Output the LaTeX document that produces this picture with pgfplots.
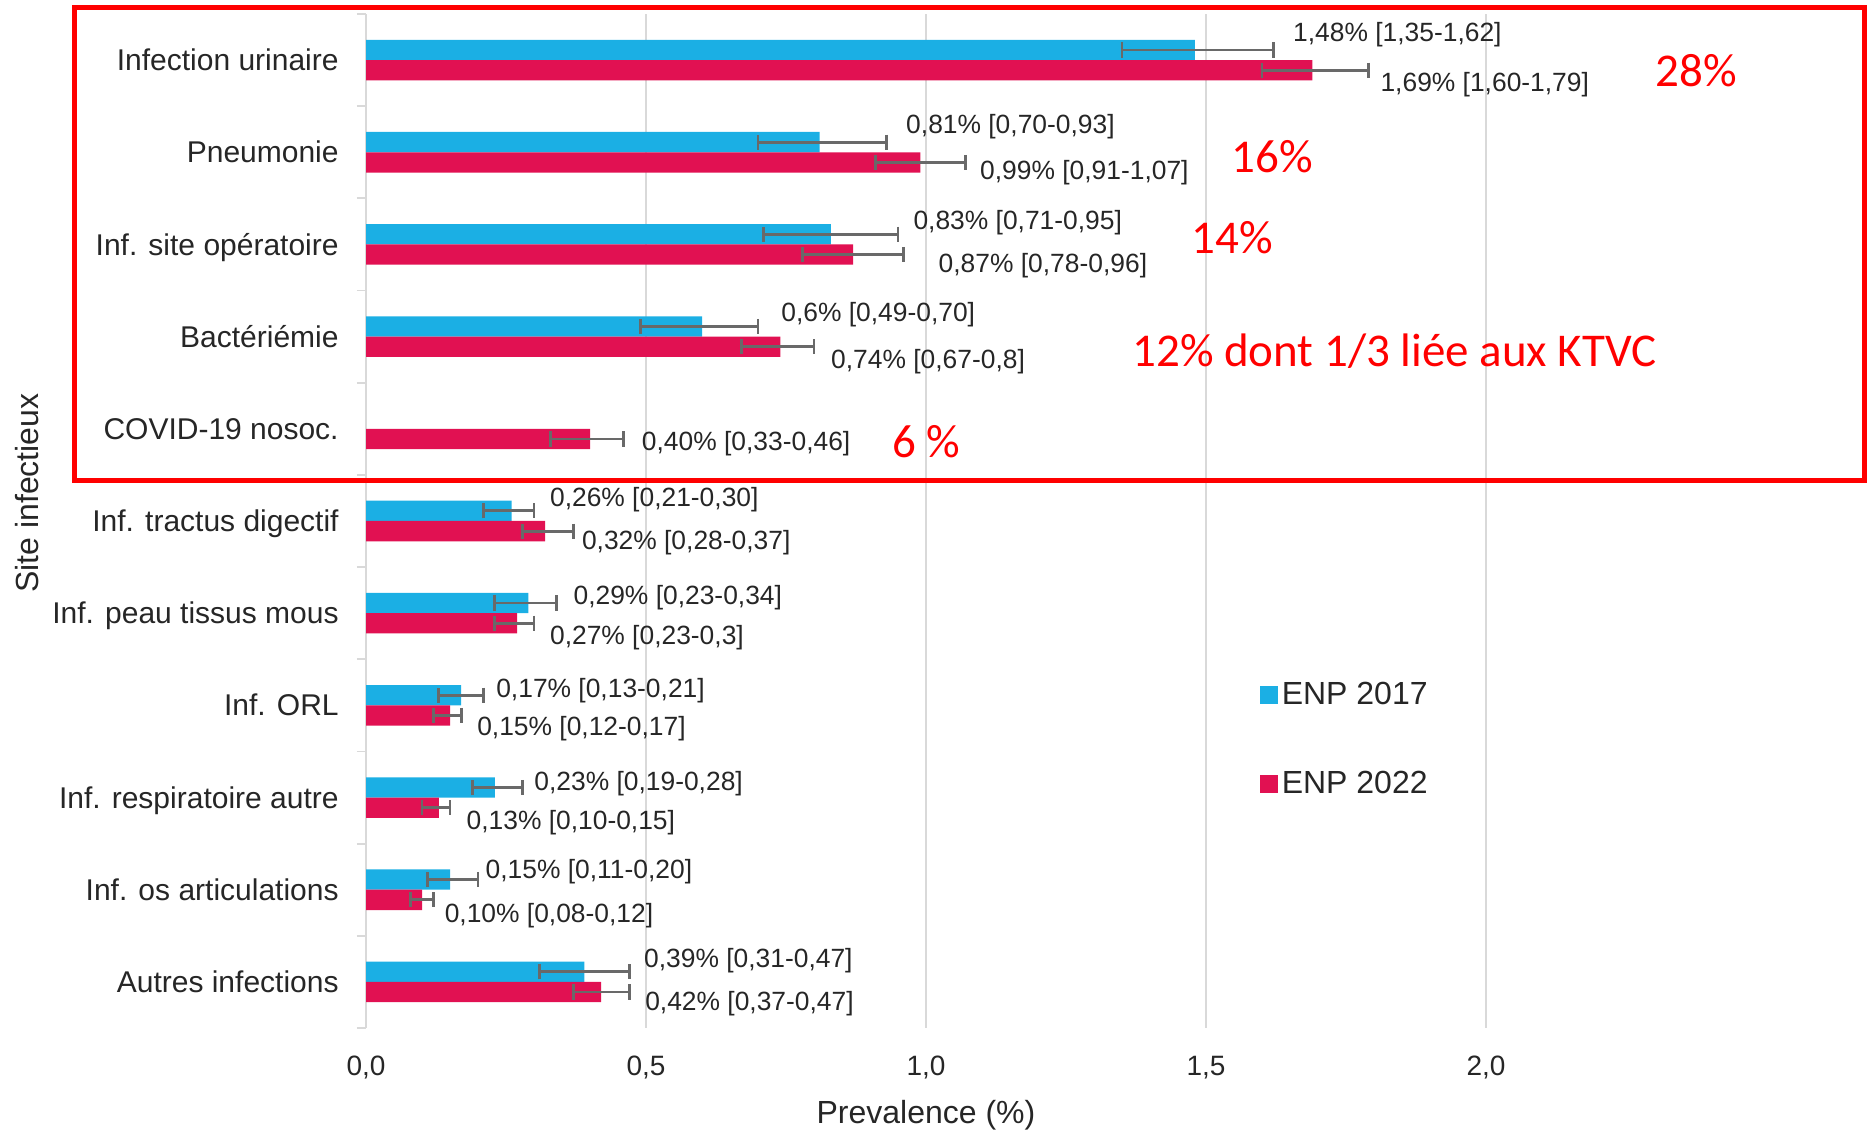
\documentclass[border=0pt]{standalone}
\usepackage{pgfplots}
\pgfplotsset{compat=1.18}
\usepackage{pgfplotstable}
\usepackage{fontspec}
\setmainfont{Liberation Sans}
\newfontfamily\calib{Carlito}
\definecolor{cblue}{RGB}{27,175,228}
\definecolor{cred}{RGB}{225,17,82}
\definecolor{errgray}{RGB}{105,105,105}
\definecolor{txt}{RGB}{38,38,38}
\definecolor{gridc}{RGB}{217,217,217}

% ENP 2017
\pgfplotstableread[col sep=semicolon]{
y;v;lo;hi;lx;ly;lab
10;1.48;1.35;1.62;1.655;10.303;1,48\% [1,35-1,62]
9;0.81;0.70;0.93;0.964;9.307;0,81\% [0,70-0,93]
8;0.83;0.71;0.95;0.977;8.260;0,83\% [0,71-0,95]
7;0.60;0.49;0.70;0.741;7.265;0,6\% [0,49-0,70]
5;0.26;0.21;0.30;0.328;5.260;0,26\% [0,21-0,30]
4;0.29;0.23;0.34;0.370;4.201;0,29\% [0,23-0,34]
3;0.17;0.13;0.21;0.232;3.192;0,17\% [0,13-0,21]
2;0.23;0.19;0.28;0.300;2.183;0,23\% [0,19-0,28]
1;0.15;0.11;0.20;0.213;1.227;0,15\% [0,11-0,20]
0;0.39;0.31;0.47;0.496;0.257;0,39\% [0,31-0,47]
}\tblue

% ENP 2022
\pgfplotstableread[col sep=semicolon]{
y;v;lo;hi;lx;ly;lab
10;1.69;1.60;1.79;1.811;9.760;1,69\% [1,60-1,79]
9;0.99;0.91;1.07;1.096;8.803;0,99\% [0,91-1,07]
8;0.87;0.78;0.96;1.022;7.795;0,87\% [0,78-0,96]
7;0.74;0.67;0.80;0.830;6.760;0,74\% [0,67-0,8]
6;0.40;0.33;0.46;0.492;5.869;0,40\% [0,33-0,46]
5;0.32;0.28;0.37;0.385;4.795;0,32\% [0,28-0,37]
4;0.27;0.23;0.30;0.328;3.761;0,27\% [0,23-0,3]
3;0.15;0.12;0.17;0.198;2.779;0,15\% [0,12-0,17]
2;0.13;0.10;0.15;0.179;1.757;0,13\% [0,10-0,15]
1;0.10;0.08;0.12;0.140;0.748;0,10\% [0,08-0,12]
0;0.42;0.37;0.47;0.498;-0.208;0,42\% [0,37-0,47]
}\tred

\begin{document}
\begin{tikzpicture}
\useasboundingbox (0,0) rectangle (934.5pt,565pt);
\begin{axis}[
  at={(183pt,558pt)}, anchor=north west,
  scale only axis, width=560pt, height=507pt,
  xmin=0, xmax=2, ymin=-0.5, ymax=10.5,
  clip=false,
  axis lines=left, axis line style={-},
  x axis line style={draw=none},
  y axis line style={draw=gridc, line width=0.9pt},
  xtick={0,0.5,1,1.5,2},
  ytick={0,...,10},
  yticklabels={Autres infections, Inf. os articulations, Inf. respiratoire autre, Inf. ORL, Inf. peau tissus mous, Inf. tractus digectif, COVID-19 nosoc., Bactériémie, Inf. site opératoire, Pneumonie, Infection urinaire},
  minor ytick={-0.5,0.5,...,10.5},
  major tick length=0pt, minor tick length=4.5pt, tick align=outside,
  minor tick style={draw=gridc, line width=0.9pt},
  xmajorgrids, grid style={draw=gridc, line width=0.8pt},
  /pgf/number format/assume math mode=true,
  xticklabel style={/pgf/number format/.cd, use comma, fixed, fixed zerofill, precision=1, /tikz/.cd,
     font=\fontsize{14}{17}\selectfont, text=txt, anchor=base, inner sep=0pt, yshift=-23.5pt},
  yticklabel style={font=\fontsize{15}{18}\selectfont, text=txt, anchor=base east, inner sep=0pt, xshift=-13.5pt, yshift=-5.3pt},
  xlabel={Prevalence (\%)},
  xlabel style={at={(axis description cs:0.5,-0.0937)}, anchor=base, font=\fontsize{16}{19}\selectfont, text=txt},
  ylabel={Site infectieux},
  ylabel style={at={(axis description cs:-0.3027,0.5276)}, anchor=center, font=\fontsize{16}{19}\selectfont, text=txt},
  legend style={at={(axis cs:1.596,2.63)}, anchor=west, draw=none, fill=none, inner sep=0pt,
     row sep=28pt, font=\fontsize{16}{19}\selectfont, text=txt, cells={anchor=west}},
  error bars/error bar style={line width=1.4pt, color=errgray, solid},
  error bars/error mark options={line width=1.4pt, color=errgray, solid, mark size=3.8pt, rotate=90},
]
\addplot[xbar, bar width=0.22, bar shift=0pt, fill=cblue, draw=none,
   legend image code/.code={\fill[cblue] (0pt,-4.4pt) rectangle (8.8pt,4.4pt);},
   error bars/.cd, x dir=both, x explicit]
 table[x=v, y expr=\thisrow{y}+0.11, x error plus expr=\thisrow{hi}-\thisrow{v}, x error minus expr=\thisrow{v}-\thisrow{lo}] {\tblue};
\addlegendentry{ENP 2017}
\addplot[xbar, bar width=0.22, bar shift=0pt, fill=cred, draw=none,
   legend image code/.code={\fill[cred] (0pt,-4.4pt) rectangle (8.8pt,4.4pt);},
   error bars/.cd, x dir=both, x explicit]
 table[x=v, y expr=\thisrow{y}-0.11, x error plus expr=\thisrow{hi}-\thisrow{v}, x error minus expr=\thisrow{v}-\thisrow{lo}] {\tred};
\addlegendentry{ENP 2022}
\addplot[draw=none, forget plot, nodes near coords, point meta=explicit symbolic,
  every node near coord/.append style={anchor=base west, inner sep=0pt, yshift=-4.7pt,
    font=\fontsize{13.2}{16}\selectfont, text=txt}]
  table[x=lx, y=ly, meta=lab] {\tblue};
\addplot[draw=none, forget plot, nodes near coords, point meta=explicit symbolic,
  every node near coord/.append style={anchor=base west, inner sep=0pt, yshift=-4.7pt,
    font=\fontsize{13.2}{16}\selectfont, text=txt}]
  table[x=lx, y=ly, meta=lab] {\tred};
\end{axis}
\draw[red, line width=2.5pt] (37pt,561.25pt) rectangle (932pt,324.5pt);
\begin{scope}[every node/.style={anchor=base west, inner sep=0pt, text=red, font=\calib\fontsize{23.5}{28}\selectfont}]
\node at (827.5pt,521.5pt) {28\%};
\node at (615.5pt,478.5pt) {16\%};
\node at (595.5pt,438pt) {14\%};
\node at (566pt,381.5pt) {12\% dont 1/3 liée aux KTVC};
\node at (446pt,336pt) {6 \%};
\end{scope}
\end{tikzpicture}
\end{document}
